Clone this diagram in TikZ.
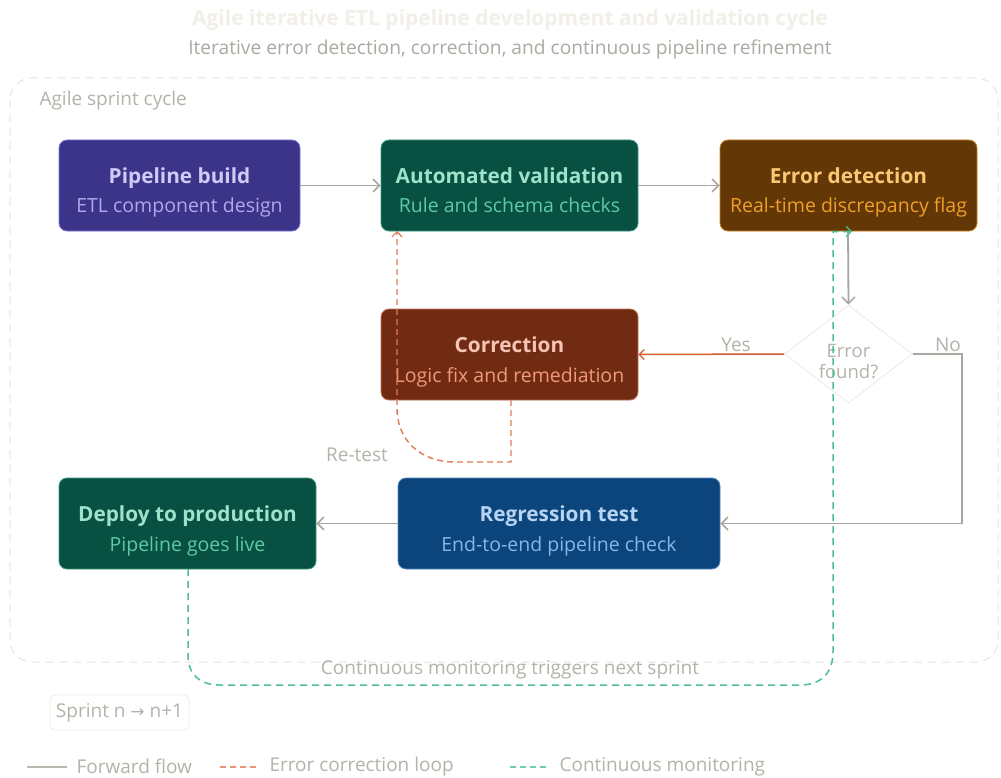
\documentclass[tikz,border=0pt]{standalone}
\usepackage{fontspec}
\setmainfont{Open Sans}
\newfontfamily\symfont{DejaVu Sans}
\usetikzlibrary{arrows.meta,shapes.geometric}
\definecolor{txtgray}{HTML}{B4B2A9}
\definecolor{linegray}{HTML}{A8A69E}
\definecolor{faint}{HTML}{F1EFE8}
\definecolor{framegray}{HTML}{E6E4DD}
\definecolor{orng}{HTML}{D85A30}
\definecolor{orngd}{HTML}{E07A55}
\definecolor{grn}{HTML}{4DBF94}
\definecolor{pbfill}{HTML}{3C3489}\definecolor{pbdraw}{HTML}{7F77DD}
\definecolor{pbt}{HTML}{CECBF6}\definecolor{pbs}{HTML}{AFA9EC}
\definecolor{gnfill}{HTML}{085041}\definecolor{gndraw}{HTML}{5DCAA5}
\definecolor{gnt}{HTML}{9FE1CB}\definecolor{gns}{HTML}{5DCAA5}
\definecolor{brfill}{HTML}{633806}\definecolor{brdraw}{HTML}{EF9F27}
\definecolor{brt}{HTML}{FAC775}\definecolor{brs}{HTML}{EF9F27}
\definecolor{rdfill}{HTML}{712B13}\definecolor{rddraw}{HTML}{F0997B}
\definecolor{rdt}{HTML}{F5C4B3}\definecolor{rds}{HTML}{F0997B}
\definecolor{blfill}{HTML}{0C447C}\definecolor{bldraw}{HTML}{85B7EB}
\definecolor{blt}{HTML}{B5D4F4}\definecolor{bls}{HTML}{85B7EB}
\tikzset{
  stepbox/.style={rectangle, rounded corners=8pt, line width=0.8pt, minimum height=91pt, inner sep=0pt},
  ttl/.style={anchor=base, font=\fontsize{20.8}{24}\selectfont\bfseries},
  sub/.style={anchor=base, font=\fontsize{19.5}{22}\selectfont},
  lbl/.style={text=txtgray, font=\fontsize{19}{22}\selectfont},
  fwd/.style={draw=linegray, line width=1.8pt, -{Straight Barb[length=6.5pt,width=13pt,line width=1.5pt]}},
  errline/.style={draw=orng, line width=1.5pt, -{Straight Barb[length=5pt,width=10pt,line width=1.2pt]}},
  errdash/.style={draw=orngd, line width=1.4pt, dash pattern=on 6pt off 4pt, -{Straight Barb[length=5pt,width=10pt,line width=1.2pt]}},
  mondash/.style={draw=grn, line width=1.5pt, dash pattern=on 7pt off 5pt, -{Straight Barb[length=5pt,width=10pt,line width=1.2pt]}},
}
\begin{document}
\begin{tikzpicture}[x=1pt,y=-1pt]
\useasboundingbox[fill=white] (0,0) rectangle (1001,778);
% titles
\node[text=faint, font=\fontsize{21}{24}\selectfont\bfseries] (title) at (510,20) {Agile iterative ETL pipeline development and validation cycle};
\node[text=txtgray!95!black, font=\fontsize{19.2}{22}\selectfont] (subtitle) at (510,49) {Iterative error detection, correction, and continuous pipeline refinement};
% sprint frame
\draw[draw=framegray, line width=1pt, dash pattern=on 8pt off 6pt, rounded corners=22pt] (10,78) rectangle (998,662);
\node[lbl, anchor=base west] (frame) at (36,106) {Agile sprint cycle};
% boxes
\node[stepbox, fill=pbfill, draw=pbdraw, minimum width=241pt] (b1) at (179.5,185.5) {};
\node[stepbox, fill=gnfill, draw=gndraw!60!gnfill, minimum width=257pt] (b2) at (509.5,185.5) {};
\node[stepbox, fill=brfill, draw=brdraw!70!brfill, minimum width=257pt] (b3) at (848.5,185.5) {};
\node[stepbox, fill=rdfill, draw=rddraw!60!rdfill, minimum width=257pt] (b4) at (509.5,354.5) {};
\node[stepbox, fill=blfill, draw=bldraw!60!blfill, minimum width=322pt] (b5) at (559,523.5) {};
\node[stepbox, fill=gnfill, draw=gndraw!60!gnfill, minimum width=257pt] (b6) at (187.5,523.5) {};
\node[diamond, draw=faint!80!framegray, fill=white, line width=1pt, minimum width=128pt, minimum height=98pt, inner sep=0pt] (d) at (848.5,354) {};
% box texts
\node[ttl, text=pbt] (t1) at (179.5,183.5) {Pipeline build};
\node[sub, text=pbs] (s1) at (179.5,213) {ETL component design};
\node[ttl, text=gnt] (t2) at (509.5,183.5) {Automated validation};
\node[sub, text=gns] (s2) at (509.5,213) {Rule and schema checks};
\node[ttl, text=brt] (t3) at (848.5,183.5) {Error detection};
\node[sub, text=brs] (s3) at (848.5,213) {Real-time discrepancy flag};
\node[ttl, text=rdt] (t4) at (509.5,352.5) {Correction};
\node[sub, text=rds] (s4) at (509.5,382) {Logic fix and remediation};
\node[ttl, text=blt] (t5) at (559,521.5) {Regression test};
\node[sub, text=bls] (s5) at (559,551) {End-to-end pipeline check};
\node[ttl, text=gnt] (t6) at (187.5,521.5) {Deploy to production};
\node[sub, text=gns] (s6) at (187.5,551) {Pipeline goes live};
\node[lbl, align=center, font=\fontsize{18.5}{21}\selectfont] (dt) at (848.5,362) {Error\\found?};
% forward arrows
\draw[fwd] (b1.east) -- (b2.west);
\draw[fwd] (b2.east) -- (b3.west);
\draw[fwd] (b3.south -| 848,0) -- (d.north);
\draw[fwd] (b5.west) -- (b6.east);
\coordinate (nocorner) at (962,354);
\draw[fwd, line width=1.3pt] (d.east) -- (nocorner) |- (b5.east);
\node[lbl] (no) at (948,345) {No};
% yes arrow
\draw[errline] (d.west) -- (b4.east);
\node[lbl] (yes) at (736,345) {Yes};
% re-test loop
\coordinate (c4b) at (511,400);
\coordinate (c2b) at (397,231);
\draw[errdash] (c4b) -- (511,462) -- (455,462) .. controls (420,462) and (397,440) .. (397,408) -- (c2b);
\node[lbl] (retest) at (357,455) {Re-test};
% monitoring loop
\coordinate (c6b) at (188,569);
\coordinate (c3b) at (852,231.5);
\draw[mondash] (c6b) -- (188,655) .. controls (188,675) and (200,685) .. (220,685) -- (800,685) .. controls (822,685) and (833,672) .. (833,652) -- (833,231.5) -- (c3b);
\node[lbl] (montxt) at (510,670) {Continuous monitoring triggers next sprint};
% sprint tag
\node[draw=faint!70!framegray, rounded corners=5pt, line width=0.8pt, minimum width=139pt, minimum height=35pt, lbl] (tag) at (119.5,712.5) {Sprint n {\symfont\fontsize{17}{20}\selectfont \char"2192}\ n+1};
% legend
\coordinate (l1a) at (27,767); \coordinate (l1b) at (67,767);
\draw[draw=linegray!80!white, line width=1.8pt] (l1a) -- (l1b);
\node[lbl, anchor=west] (lg1) at (73,766.5) {Forward flow};
\coordinate (l2a) at (220,767); \coordinate (l2b) at (260,767);
\draw[draw=orngd!80!white, line width=1.5pt, dash pattern=on 6pt off 4pt] (l2a) -- (l2b);
\node[lbl, anchor=west] (lg2) at (266,766.5) {Error correction loop};
\coordinate (l3a) at (510,767); \coordinate (l3b) at (550,767);
\draw[draw=grn!80!white, line width=1.5pt, dash pattern=on 6pt off 4pt] (l3a) -- (l3b);
\node[lbl, anchor=west] (lg3) at (556,766.5) {Continuous monitoring};
\end{tikzpicture}
\end{document}
